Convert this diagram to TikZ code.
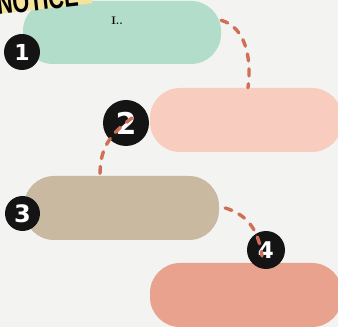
\documentclass[tikz,border=0pt]{standalone}
\usepackage{xcolor}
\usepackage{fontspec}
\usepackage{tikz}
\newfontfamily\badgefont{DejaVu Sans}
\newfontfamily\headfont{Liberation Sans}
\definecolor{StepPaper}{HTML}{F3F3F1}
\definecolor{StepMint}{HTML}{B2DDCB}
\definecolor{StepBlush}{HTML}{F8CDBF}
\definecolor{StepSand}{HTML}{C9B9A0}
\definecolor{StepCoral}{HTML}{E8A28D}
\definecolor{StepDash}{HTML}{CF6F57}
\definecolor{StepInk}{HTML}{141414}
\definecolor{StepYellow}{HTML}{F4E39A}

\begin{document}
\begin{tikzpicture}[x=1pt,y=1pt,
  pill/.style={rounded corners=30pt,minimum height=63pt,inner sep=0pt},
  badge/.style={circle,fill=StepInk,text=white,inner sep=0pt},
  link/.style={draw=StepDash,line width=3.4pt,line cap=round,dash pattern=on 7pt off 8pt}
]
  \fill[StepPaper] (0,0) rectangle (338,327);
  \clip (0,0) rectangle (338,327);
  % steps
  \node[pill,fill=StepMint,minimum width=198pt] (first) at (122,294.5) {};
  \node[font=\bfseries\fontsize{11}{11}\selectfont] (firsttext) at (117,306) {I..};
  \node[pill,fill=StepBlush,minimum width=192pt,minimum height=64pt] (second) at (246,207) {};
  \node[pill,fill=StepSand,minimum width=195pt,minimum height=64pt] (third) at (121.5,119) {};
  \node[pill,fill=StepCoral,minimum width=192pt,minimum height=64pt] (fourth) at (246,32) {};
  % heading strip, cut by the top edge
  \fill[StepYellow,rotate around={6.5:(-2,312)}] (-2,313) rectangle (93,340);
  \node[font=\headfont\bfseries\fontsize{30}{30}\selectfont,anchor=base west,rotate=6.5,xscale=0.72,inner sep=0pt] (head) at (-2,312) {NOTICE};
  % numbers
  \node[badge,minimum size=36pt,font=\badgefont\bfseries\fontsize{22}{22}\selectfont] (one) at (22,275) {1};
  \node[badge,minimum size=46pt,font=\badgefont\bfseries\fontsize{30}{30}\selectfont] (two) at (126,204) {2};
  \node[badge,minimum size=35pt,font=\badgefont\bfseries\fontsize{24}{24}\selectfont] (three) at (22.5,113.5) {3};
  \node[badge,minimum size=38pt,font=\badgefont\bfseries\fontsize{23}{23}\selectfont] (four) at (266,77) {4};
  % dashed path
  \draw[link] (first.7) .. controls (245,300) and (252,270) .. ([xshift=2pt]second.north);
  \draw[link] ([shift={(6pt,5pt)}]two.center) .. controls (106,190) and (100,175) .. ([xshift=-21.5pt]third.north);
  \draw[link] ([xshift=6pt]third.east) .. controls (245,113) and (258,100) .. ([shift={(-4pt,-6pt)}]four.center);
\end{tikzpicture}
\end{document}
